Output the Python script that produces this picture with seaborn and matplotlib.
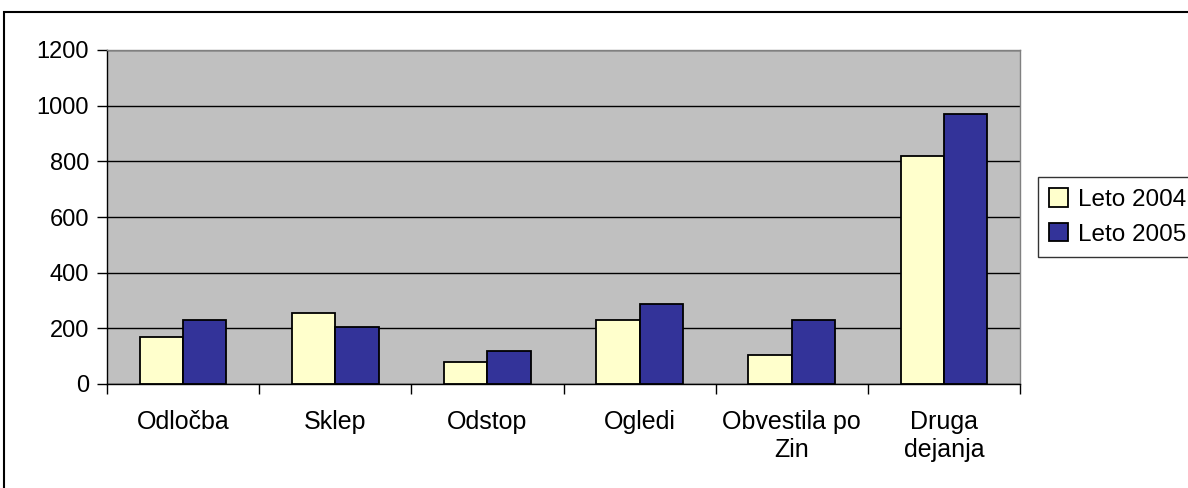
import numpy as np
import pandas as pd
import matplotlib
matplotlib.use("Agg")
import matplotlib.pyplot as plt
import seaborn as sns
from matplotlib.patches import Rectangle

categories = ["Odločba", "Sklep", "Odstop", "Ogledi", "Obvestila po\nZin", "Druga\ndejanja"]
leto_2004 = [168, 254, 80, 230, 105, 820]
leto_2005 = [230, 204, 118, 287, 230, 970]
series_names = ["Leto 2004", "Leto 2005"]
yticks = [0, 200, 400, 600, 800, 1000, 1200]

df = pd.DataFrame({
    "kategorija": categories * 2,
    "vrednost": leto_2004 + leto_2005,
    "serija": [series_names[0]] * len(categories) + [series_names[1]] * len(categories),
})

sns.set_style("white")
plt.rcParams["font.family"] = ["Liberation Sans", "DejaVu Sans"]
plt.rcParams["text.color"] = "black"
plt.rcParams["xtick.color"] = "black"
plt.rcParams["ytick.color"] = "black"

fig = plt.figure(figsize=(11.88, 4.88), dpi=100)
ax = fig.add_axes([107 / 1188, 104 / 488, 913 / 1188, 334 / 488])

sns.barplot(
    data=df, x="kategorija", y="vrednost", hue="serija",
    palette=["#FFFFCC", "#333399"], width=0.57, ax=ax,
    edgecolor="black", linewidth=1.3, saturation=1, legend=True,
)

ax.set_facecolor("#C0C0C0")
ax.set_ylim(0, 1200)
ax.set_xlim(-0.5, len(categories) - 0.5)
ax.set_yticks(yticks)
ax.yaxis.grid(True, color="black", linewidth=1.0)
ax.set_axisbelow(True)
ax.set_xlabel("")
ax.set_ylabel("")

for side in ["top", "right"]:
    ax.spines[side].set_color("#808080")
    ax.spines[side].set_linewidth(1.0)
for side in ["left", "bottom"]:
    ax.spines[side].set_color("black")
    ax.spines[side].set_linewidth(1.0)

ax.tick_params(axis="y", direction="out", length=7, width=1, labelsize=17, pad=6,
               left=True, labelcolor="black")
ax.tick_params(axis="x", which="major", length=0, labelsize=18, pad=19, labelcolor="black")
ax.set_xticks(np.arange(-0.5, len(categories)), minor=True)
ax.tick_params(axis="x", which="minor", direction="out", length=7, width=1, bottom=True)

handles, labels = ax.get_legend_handles_labels()
leg = ax.legend(
    handles, labels, loc="upper left", bbox_to_anchor=(1038 / 1188, 1 - 177 / 488),
    bbox_transform=fig.transFigure, fontsize=17.5, frameon=True, fancybox=False,
    edgecolor="black", handlelength=0.8, handleheight=0.8, handletextpad=0.4,
    borderpad=0.45, labelspacing=0.5, borderaxespad=0,
)
leg.get_frame().set_linewidth(1.0)
for t in leg.get_texts():
    t.set_color("black")

fig.patches.append(Rectangle((4 / 1188, -10 / 488), 1200 / 1188, 486 / 488,
                             transform=fig.transFigure, fill=False,
                             edgecolor="black", linewidth=1.5))

fig.savefig("out.png", dpi=100)
plt.close(fig)
